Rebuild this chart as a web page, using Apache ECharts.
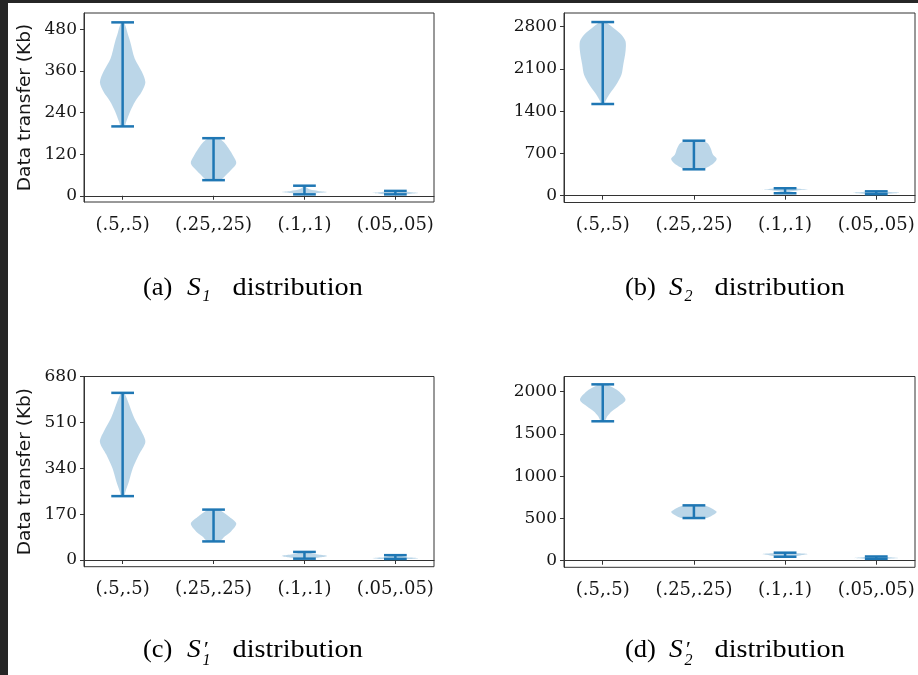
<!DOCTYPE html>
<html><head><meta charset="utf-8">
<script src="https://cdn.jsdelivr.net/npm/echarts@6/dist/echarts.min.js"></script>
<style>html,body{margin:0;padding:0;background:#fff}#c{width:918px;height:675px}</style>
</head><body><div id="c"></div>
<script>
// ---------- DATA ----------
const categories = ['(.5,.5)', '(.25,.25)', '(.1,.1)', '(.05,.05)'];
const positions = [1, 2, 3, 4];

// Violin profiles: [value (Kb), relative half-width of the violin at that value]
// Panel (a) S1
const s1_p1 = [[200,0.08],[214,0.16],[243,0.33],[272,0.55],[300,0.84],[327,1.0],[358,0.84],[396,0.53],[445,0.33],[468,0.22],[500,0.06]];
const s1_p2 = [[45,0.22],[49,0.38],[60,0.55],[75,0.78],[94,1.0],[113,0.88],[137,0.66],[155,0.45],[166,0.2]];
const s1_p3 = [[4,0.12],[8,0.6],[11,1.0],[14,0.6],[18,0.25],[23,0.1],[29,0.04]];
const s1_p4 = [[4,0.3],[6,0.7],[8,1.0],[10,0.7],[12,0.35],[14,0.12]];
// Panel (b) S2
const s2_p1 = [[1519,0.05],[1590,0.15],[1701,0.33],[1839,0.59],[2005,0.82],[2170,0.9],[2392,1.0],[2558,1.0],[2668,0.82],[2778,0.47],[2840,0.26],[2877,0.1]];
const s2_p2 = [[437,0.4],[470,0.59],[542,0.88],[613,1.0],[679,0.84],[790,0.73],[873,0.59],[911,0.3]];
const s2_p3 = [[40,0.1],[70,0.25],[95,0.7],[106,1.0],[115,0.6],[123,0.3]];
const s2_p4 = [[25,0.3],[40,0.8],[50,1.0],[60,0.6],[72,0.3]];
// Panel (c) S1'
const s1b_p1 = [[237,0.06],[255,0.13],[292,0.28],[341,0.45],[391,0.72],[438,1.0],[477,0.83],[527,0.51],[589,0.23],[620,0.06]];
const s1b_p2 = [[69,0.25],[88,0.5],[106,0.77],[135,1.0],[162,0.66],[180,0.37],[187,0.2]];
const s1b_p3 = [[5,0.2],[10,0.7],[15,1.0],[20,0.6],[25,0.3],[30,0.15]];
const s1b_p4 = [[4,0.6],[7,1.0],[10,0.5],[14,0.3],[18,0.15]];
// Panel (d) S2'
const s2b_p1 = [[1650,0.08],[1709,0.2],[1768,0.4],[1827,0.7],[1905,1.0],[2005,0.7],[2064,0.33],[2087,0.15]];
const s2b_p2 = [[505,0.55],[525,0.75],[576,1.0],[610,0.85],[643,0.6],[655,0.35]];
const s2b_p3 = [[47,0.3],[65,0.7],[79,1.0],[88,0.6],[95,0.3]];
const s2b_p4 = [[22,0.4],[32,1.0],[42,0.6],[50,0.3]];

// Tick labels
const s1Ticks = [0, 120, 240, 360, 480];
const s2Ticks = [0, 700, 1400, 2100, 2800];
const s1bTicks = [0, 170, 340, 510, 680];
const s2bTicks = [0, 500, 1000, 1500, 2000];

// Captions
const captionTags = ['(a)', '(b)', '(c)', '(d)'];
const captionSubs = ['1', '2', '1', '2'];
const captionPrime = [false, false, true, true];
const captionWord = 'distribution';
const yName = 'Data transfer (Kb)';

// ---------- LAYOUT ----------
const panels = [
  {left:84,  top:13,    width:350, height:189,   ymin:-18,  ymax:527,  ticks:s1Ticks,  prof:[s1_p1,s1_p2,s1_p3,s1_p4],     yname:true},
  {left:564, top:13,    width:351, height:189.5, ymin:-113, ymax:3027, ticks:s2Ticks,  prof:[s2_p1,s2_p2,s2_p3,s2_p4],     yname:false},
  {left:84,  top:376.5, width:350, height:190.2, ymin:-24.8,ymax:680.7,ticks:s1bTicks, prof:[s1b_p1,s1b_p2,s1b_p3,s1b_p4], yname:true},
  {left:564, top:376.5, width:351, height:190.8, ymin:-78,  ymax:2180, ticks:s2bTicks, prof:[s2b_p1,s2b_p2,s2b_p3,s2b_p4], yname:false}
];

const BLUE = '#1f77b4';
const AX = '#333333';
const tickFont = 'DejaVu Serif';

function makeRender(profiles) {
  return function (params, api) {
    const pos = api.value(0);
    const prof = profiles[params.dataIndex];
    const left = [], right = [];
    prof.forEach(function (p) {
      left.push(api.coord([pos - p[1] * 0.25, p[0]]));
      right.push(api.coord([pos + p[1] * 0.25, p[0]]));
    });
    const pts = left.concat(right.reverse());
    const vmin = api.value(1), vmax = api.value(2);
    const a = api.coord([pos, vmin]), b = api.coord([pos, vmax]);
    const c1 = api.coord([pos - 0.125, vmin]), c2 = api.coord([pos + 0.125, vmin]);
    const c3 = api.coord([pos - 0.125, vmax]), c4 = api.coord([pos + 0.125, vmax]);
    const ls = {stroke: BLUE, lineWidth: 2.5};
    return {type: 'group', children: [
      {type: 'polygon', shape: {points: pts, smooth: 0.3}, style: {fill: 'rgba(31,119,180,0.3)'}},
      {type: 'line', shape: {x1: a[0], y1: a[1], x2: b[0], y2: b[1]}, style: ls},
      {type: 'line', shape: {x1: c1[0], y1: c1[1], x2: c2[0], y2: c2[1]}, style: ls},
      {type: 'line', shape: {x1: c3[0], y1: c3[1], x2: c4[0], y2: c4[1]}, style: ls}
    ]};
  };
}

const grid = [], xAxis = [], yAxis = [], series = [];
const graphic = [
  {type: 'rect', shape: {x: 0, y: 0, width: 8, height: 675}, style: {fill: '#262626'}},
  {type: 'rect', shape: {x: 0, y: 0, width: 918, height: 3}, style: {fill: '#262626'}}
];
panels.forEach(function (p, i) {
  grid.push({left: p.left, top: p.top, width: p.width, height: p.height, show: true,
    borderColor: AX, borderWidth: 1, backgroundColor: 'transparent'});
  xAxis.push({type: 'value', gridIndex: i, min: 0.575, max: 4.425,
    axisLine: {show: true, lineStyle: {color: AX, width: 1}},
    axisTick: {show: true, customValues: positions, length: 4, lineStyle: {color: AX}},
    axisLabel: {customValues: positions, formatter: function (v) { return categories[Math.round(v) - 1]; },
      fontFamily: tickFont, fontSize: 18, color: '#161616', margin: 14},
    splitLine: {show: false}});
  yAxis.push({type: 'value', gridIndex: i, min: p.ymin, max: p.ymax,
    axisLine: {show: true, lineStyle: {color: AX, width: 1}},
    axisTick: {show: true, customValues: p.ticks, length: 4, lineStyle: {color: AX}},
    axisLabel: {customValues: p.ticks, formatter: function (v) { return String(v); },
      fontFamily: tickFont, fontSize: 17, color: '#161616', margin: 7, hideOverlap: false},
    splitLine: {show: false}});
  series.push({type: 'custom', xAxisIndex: i, yAxisIndex: i,
    renderItem: makeRender(p.prof),
    encode: {x: 0, y: [1, 2]},
    data: p.prof.map(function (pr, k) { return [positions[k], pr[0][0], pr[pr.length - 1][0]]; }),
    clip: false, silent: true});
  if (p.yname) {
    graphic.push({type: 'text', x: 25, y: p.top + p.height / 2, rotation: Math.PI / 2,
      style: {text: yName, font: '18.5px "DejaVu Sans"', fill: '#161616', textAlign: 'center', textVerticalAlign: 'middle'}});
  }
});

// captions
const capX = [143, 625, 143, 625];
const capBase = [296.7, 296.7, 659.3, 659.3];
const serif = '"Liberation Serif"';
captionTags.forEach(function (tag, i) {
  const x0 = capX[i], yb = capBase[i];
  const ym = yb - 8.4;
  graphic.push({type: 'text', x: x0, y: ym, scaleX: 1.06,
    style: {text: tag, font: '25px ' + serif, fill: '#000', textAlign: 'left', textVerticalAlign: 'middle'}});
  graphic.push({type: 'text', x: x0 + 44, y: ym, scaleX: 1.1,
    style: {text: 'S', font: 'italic 25px ' + serif, fill: '#000', textAlign: 'left', textVerticalAlign: 'middle'}});
  graphic.push({type: 'text', x: x0 + 59.5, y: yb + (captionPrime[i] ? 7.4 : 6) - 5.5,
    style: {text: captionSubs[i], font: 'italic 16px ' + serif, fill: '#000', textAlign: 'left', textVerticalAlign: 'middle'}});
  if (captionPrime[i]) {
    graphic.push({type: 'text', x: x0 + 61, y: yb - 20,
      style: {text: '\u2032', font: '22px ' + serif, fill: '#000', textAlign: 'left', textVerticalAlign: 'top'}});
  }
  graphic.push({type: 'text', x: x0 + 89.5, y: ym, scaleX: 1.13,
    style: {text: captionWord, font: '25px ' + serif, fill: '#000', textAlign: 'left', textVerticalAlign: 'middle'}});
});

const chart = echarts.init(document.getElementById('c'), null, {renderer: 'canvas'});
chart.setOption({
  backgroundColor: '#ffffff',
  animation: false,
  grid: grid, xAxis: xAxis, yAxis: yAxis, series: series, graphic: graphic
});
</script></body></html>
